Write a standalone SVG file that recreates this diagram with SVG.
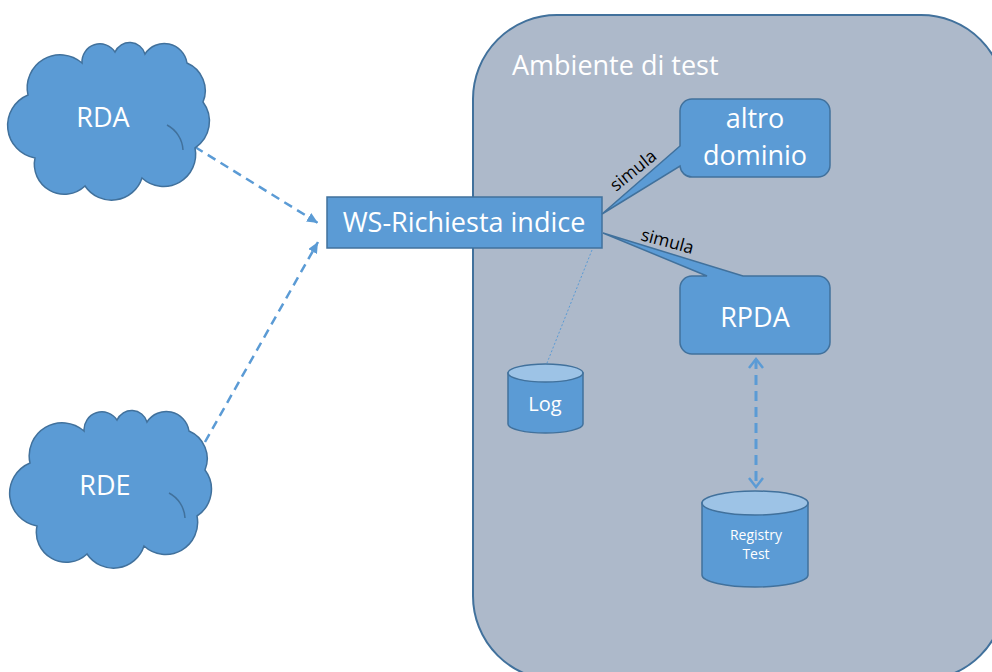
<svg xmlns="http://www.w3.org/2000/svg" width="992" height="672" viewBox="0 0 992 672">
<style>
.node{fill:#5b9bd5;stroke:#41719c;stroke-width:1.5}
.top{fill:#9dc3e6;stroke:#41719c;stroke-width:1.5}
.t{font-family:"Open Sans","Liberation Sans",sans-serif;fill:#ffffff;text-anchor:middle}
.lbl{font-family:"Open Sans","Liberation Sans",sans-serif;fill:#000000;font-size:17.5px;text-anchor:middle}
.dash{fill:none;stroke:#5b9bd5;stroke-width:2.5;stroke-dasharray:9 6}
</style>
<defs>
<path id="cloud" d="M18,55 A33,33 0 0 1 72,23 A18,18 0 0 1 105,12 A16,16 0 0 1 135,14 A23,23 0 0 1 177,23 A30,30 0 0 1 193,62 A32,32 0 0 1 185,108 A32,32 0 0 1 132,138 A32,32 0 0 1 75,146 A30,30 0 0 1 25,118 A33,33 0 0 1 18,55 Z"/>
<marker id="tri" markerUnits="userSpaceOnUse" markerWidth="12" markerHeight="10" refX="11" refY="5" orient="auto">
<path d="M0,0 L11,5 L0,10 Z" fill="#5b9bd5"/>
</marker>
<marker id="chev" markerUnits="userSpaceOnUse" markerWidth="14" markerHeight="16" refX="10" refY="8" orient="auto-start-reverse">
<path d="M1,1 L10,8 L1,15" fill="none" stroke="#5b9bd5" stroke-width="2.5"/>
</marker>
</defs>

<g id="ambiente">
<rect x="473" y="15" width="532" height="665" rx="84" ry="84" fill="#adb9ca" stroke="#41719c" stroke-width="2"/>
<text class="t" x="512" y="75" font-size="27" style="text-anchor:start">Ambiente di test</text>
</g>

<g id="connectors">
<line class="dash" x1="195" y1="147" x2="318" y2="223" marker-end="url(#tri)"/>
<line class="dash" x1="205" y1="442" x2="318" y2="242" marker-end="url(#tri)"/>
<line x1="592" y1="250" x2="547" y2="363" stroke="#5b9bd5" stroke-width="1" stroke-dasharray="2 2"/>
<line x1="756" y1="359" x2="756" y2="487" fill="none" stroke="#5b9bd5" stroke-width="3" stroke-dasharray="10 6" marker-start="url(#chev)" marker-end="url(#chev)"/>
</g>

<g id="rda">
<use href="#cloud" transform="translate(10,40)" class="node"/>
<path d="M167,125 A30,30 0 0 1 183,150" fill="none" stroke="#41719c" stroke-width="1.5"/>
<text class="t" x="103" y="127" font-size="27">RDA</text>
</g>

<g id="rde">
<use href="#cloud" transform="translate(12,408)" class="node"/>
<path d="M169,493 A30,30 0 0 1 185,518" fill="none" stroke="#41719c" stroke-width="1.5"/>
<text class="t" x="105" y="495" font-size="27">RDE</text>
</g>

<g id="ws">
<rect class="node" x="327" y="197" width="275" height="51"/>
<text class="t" x="464" y="232" font-size="27">WS-Richiesta indice</text>
</g>

<g id="altro">
<path class="node" d="M692,99 H818 A12,12 0 0 1 830,111 V165 A12,12 0 0 1 818,177 H692 A12,12 0 0 1 680,166 L602,214 L680,146 V111 A12,12 0 0 1 692,99 Z"/>
<text class="t" x="755" y="128" font-size="27">altro</text>
<text class="t" x="755" y="165" font-size="27">dominio</text>
<text class="lbl" transform="translate(637,175) rotate(-39)">simula</text>
</g>

<g id="rpda">
<path class="node" d="M692,276 H707 L603,233 L743,276 H818 A12,12 0 0 1 830,288 V342 A12,12 0 0 1 818,354 H692 A12,12 0 0 1 680,342 V288 A12,12 0 0 1 692,276 Z"/>
<text class="t" x="755" y="327" font-size="27">RPDA</text>
<text class="lbl" transform="translate(666,247) rotate(15)">simula</text>
</g>

<g id="log">
<path class="node" d="M508,373 V424 A37.5,9 0 0 0 583,424 V373 Z"/>
<ellipse class="top" cx="545.5" cy="373" rx="37.5" ry="9"/>
<text class="t" x="545" y="411" font-size="20">Log</text>
</g>

<g id="registry">
<path class="node" d="M702,503 V575 A53,12 0 0 0 808,575 V503 Z"/>
<ellipse class="top" cx="755" cy="503" rx="53" ry="12"/>
<text class="t" x="756" y="540" font-size="14">Registry</text>
<text class="t" x="756" y="559" font-size="14">Test</text>
</g>
</svg>
